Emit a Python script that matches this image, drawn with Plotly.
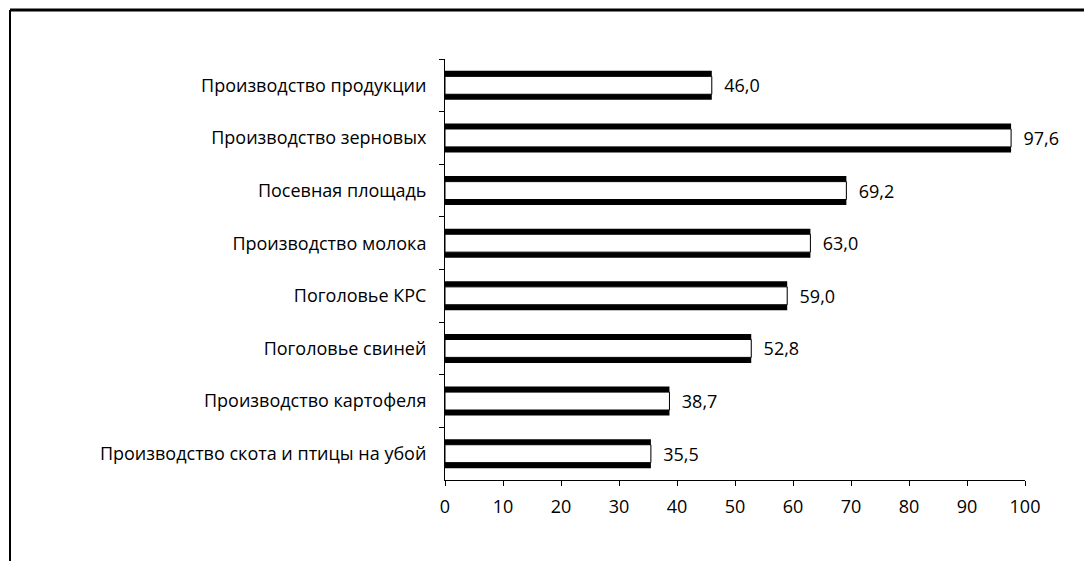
import plotly.graph_objects as go

categories = [
    "Производство продукции",
    "Производство зерновых",
    "Посевная площадь",
    "Производство молока",
    "Поголовье КРС",
    "Поголовье свиней",
    "Производство картофеля",
    "Производство скота и птицы на убой",
]
values = [46.0, 97.6, 69.2, 63.0, 59.0, 52.8, 38.7, 35.5]
x_ticks = [0, 10, 20, 30, 40, 50, 60, 70, 80, 90, 100]

FONT = "Open Sans"
FS = 18

# figure sits at (8, 8) inside the page (default body margin)
W, H = 1084, 553
L, R, T, B = 437, 67, 51, 81
PW, PH = W - L - R, H - T - B


def px(xf):
    return (xf - L) / PW


def py(yf):
    return (T + PH - yf) / PH


fig = go.Figure()
fig.add_trace(go.Bar(
    y=categories, x=values, orientation="h", width=0.55,
    marker=dict(color="black", line=dict(width=0)),
    texttemplate="  %{x:.1f}", textposition="outside",
    textfont=dict(family=FONT, size=FS, color="black"),
    cliponaxis=False, hoverinfo="skip", showlegend=False,
))
fig.add_trace(go.Bar(
    y=categories, x=values, orientation="h", width=0.34,
    marker=dict(color="white", line=dict(color="black", width=1)),
    hoverinfo="skip", showlegend=False,
))

fig.update_layout(
    width=W, height=H,
    margin=dict(l=L, r=R, t=T, b=B),
    paper_bgcolor="white", plot_bgcolor="white",
    barmode="overlay",
    separators=", ",
    font=dict(family=FONT, size=FS, color="black"),
    xaxis=dict(
        range=[0, 100], tickvals=x_ticks, showgrid=False, zeroline=False,
        showline=True, linecolor="black", linewidth=1,
        ticks="outside", ticklen=5, tickcolor="black",
        tickfont=dict(family=FONT, size=FS, color="black"),
        ticklabelstandoff=5,
        fixedrange=True,
    ),
    yaxis=dict(
        autorange="reversed", showgrid=False, zeroline=False,
        showline=True, linecolor="black", linewidth=1,
        ticks="outside", ticklen=5, tickcolor="black", tickson="boundaries",
        tickfont=dict(family=FONT, size=FS, color="black"),
        ticklabelstandoff=14,
        fixedrange=True,
    ),
    shapes=[
        dict(type="line", xref="paper", yref="paper",
             x0=px(2), x1=px(W), y0=py(2), y1=py(2),
             line=dict(color="black", width=3)),
        dict(type="line", xref="paper", yref="paper",
             x0=px(2), x1=px(2), y0=py(2), y1=py(H),
             line=dict(color="black", width=2)),
    ],
)

fig.write_html("out.html")
